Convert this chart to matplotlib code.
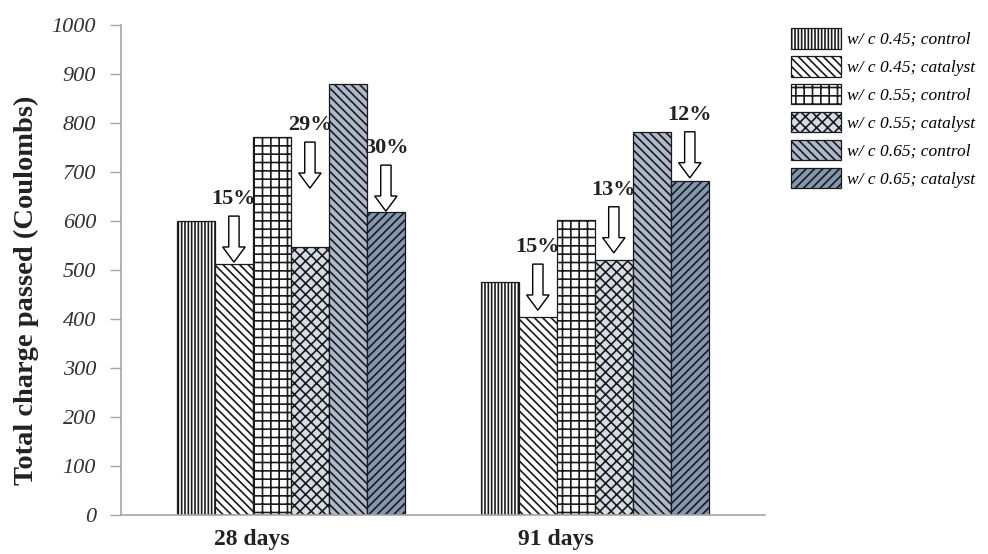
import numpy as np
import matplotlib
matplotlib.use("Agg")
import matplotlib.pyplot as plt

# data
ages = ["28 days", "91 days"]
series = ["w/ c 0.45; control", "w/ c 0.45; catalyst",
          "w/ c 0.55; control", "w/ c 0.55; catalyst",
          "w/ c 0.65; control", "w/ c 0.65; catalyst"]
charge_28 = [600, 512, 772, 547, 880, 618]
charge_91 = [476, 404, 602, 520, 782, 682]

# reduction labels and where the arrow tips sit (catalyst bars)
reduction_28 = ["15%", "29%", "30%"]
reduction_91 = ["15%", "13%", "12%"]
arrow_tip_28 = [516, 667, 620]
arrow_tip_91 = [418, 535, 688]

BS = "\\"
fills = ["white", "white", "white", "#D6DCE5", "#ADB9CA", "#8497B0"]
hatches = ["|||||", BS * 4, "++", "xxx", BS * 4, "////"]

plt.rcParams["font.family"] = ["Liberation Serif", "DejaVu Serif"]
plt.rcParams["hatch.linewidth"] = 1.2

fig = plt.figure(figsize=(9.88, 5.54), dpi=100)
ax = fig.add_axes([0.1225, 0.0704, 0.6515, 0.8845])

values = np.array([charge_28, charge_91])
x = np.arange(len(ages))
w = 0.125
for i, name in enumerate(series):
    ax.bar(x + (i - 2.5) * w, values[:, i], width=w, color=fills[i],
           edgecolor="#1a1a1a", linewidth=0.9, hatch=hatches[i], label=name)

# hollow arrows and percentage labels over the catalyst bars
arrow_len = 94
for g, (labels, tips) in enumerate([(reduction_28, arrow_tip_28),
                                    (reduction_91, arrow_tip_91)]):
    for k, (lab, tip) in enumerate(zip(labels, tips)):
        bx = g + (2 * k + 1 - 2.5) * w
        ax.arrow(bx, tip + arrow_len, 0, -arrow_len, width=0.034,
                 head_width=0.074, head_length=31, length_includes_head=True,
                 fc="white", ec="black", lw=1.0, zorder=5)
        ax.text(bx, tip + arrow_len + 14, lab, ha="center", va="bottom",
                fontsize=16, fontweight="bold", color="#222222")

ax.set_xlim(-0.559, 1.559)
ax.set_ylim(0, 1000)
ax.set_yticks(np.arange(0, 1001, 100))
ax.set_yticklabels([str(v) for v in range(0, 1001, 100)],
                   fontstyle="italic", fontsize=16, color="#333333")
ax.set_xticks(x - 0.128)
ax.set_xticklabels(ages, fontsize=17, fontweight="bold", color="#222222")
ax.tick_params(axis="x", length=0, pad=10)
ax.tick_params(axis="y", length=8, width=1, color="#a6a6a6", pad=10)
for side in ["top", "right"]:
    ax.spines[side].set_visible(False)
for side in ["left", "bottom"]:
    ax.spines[side].set_color("#a6a6a6")
    ax.spines[side].set_linewidth(1.2)

ax.set_ylabel("Total charge passed (Coulombs)", fontsize=20.5,
              fontweight="bold", color="#222222")
ax.yaxis.set_label_coords(-0.127, 0.458)

fig.legend(loc="upper left", bbox_to_anchor=(0.8006, 1 - 28 / 554),
           frameon=False, borderpad=0, borderaxespad=0,
           handlelength=2.9, handleheight=1.45, labelspacing=0.42,
           handletextpad=0.35, prop={"style": "italic", "size": 12.5})

fig.savefig("out.png", dpi=100)
